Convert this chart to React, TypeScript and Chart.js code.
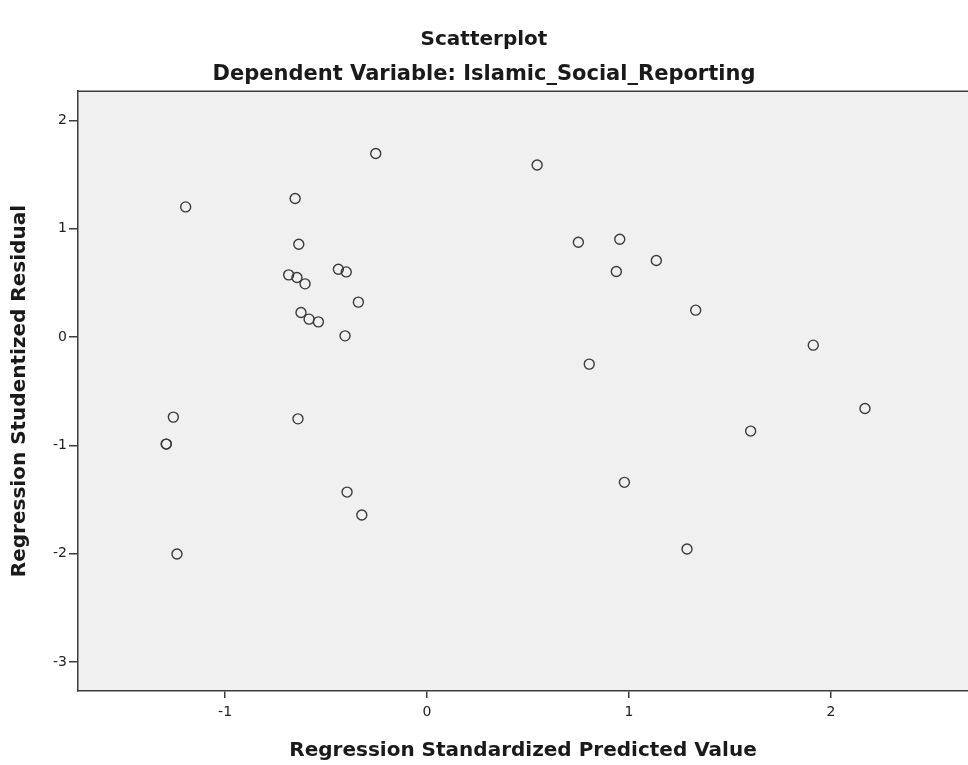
import React, { useEffect, useRef } from "react";
import { Chart, registerables } from "chart.js";

Chart.register(...registerables);

const titleText = "Scatterplot";
const subtitleText = "Dependent Variable: Islamic_Social_Reporting";
const xAxisTitle = "Regression Standardized Predicted Value";
const yAxisTitle = "Regression Studentized Residual";

// Regression Standardized Predicted Value
const predicted = [
  -0.254, -0.653, -1.195, -0.635, -0.685, -0.644, -0.604, -0.439, -0.4, -0.34,
  -0.624, -0.584, -0.538, -0.406, -1.256, -1.291, -1.291, -0.639, -0.396, -0.323,
  -1.238, 0.545, 0.749, 0.954, 1.135, 0.937, 1.33, 1.912, 0.803, 2.168,
  1.602, 0.977, 1.287,
];
// Regression Studentized Residual
const residual = [
  1.695, 1.28, 1.202, 0.858, 0.575, 0.551, 0.492, 0.627, 0.602, 0.323,
  0.228, 0.166, 0.141, 0.012, -0.738, -0.987, -0.987, -0.754, -1.43, -1.642,
  -2.002, 1.589, 0.876, 0.904, 0.708, 0.606, 0.249, -0.074, -0.249, -0.658,
  -0.867, -1.34, -1.956,
];

const xMin = -1.728;
const xMax = 2.678;
const yMin = -3.266;
const yMax = 2.27;

const plotBg = {
  id: "plotBg",
  beforeDraw(chart: any) {
    const { ctx, chartArea } = chart;
    ctx.save();
    ctx.fillStyle = "#f0f0f0";
    ctx.fillRect(chartArea.left, chartArea.top, chartArea.right - chartArea.left, chartArea.bottom - chartArea.top);
    ctx.restore();
  },
  afterDraw(chart: any) {
    const { ctx, chartArea } = chart;
    ctx.save();
    ctx.strokeStyle = "#3c3c3c";
    ctx.lineWidth = 1.5;
    ctx.beginPath();
    ctx.moveTo(chartArea.left, chartArea.top);
    ctx.lineTo(chartArea.right, chartArea.top);
    ctx.stroke();
    ctx.restore();
  },
};

export default function App() {
  const ref = useRef<HTMLCanvasElement | null>(null);

  useEffect(() => {
    document.body.style.margin = "0";
    document.body.style.background = "#ffffff";
    const canvas = ref.current;
    if (!canvas) return;
    const points = predicted.map((x, i) => ({ x, y: residual[i] }));
    const chart = new Chart(canvas, {
      type: "scatter",
      data: {
        datasets: [
          {
            data: points,
            pointRadius: 5,
            pointHoverRadius: 5,
            pointBorderWidth: 1.4,
            pointBorderColor: "#3a3a3a",
            pointBackgroundColor: "rgba(0,0,0,0)",
          },
        ],
      },
      plugins: [plotBg],
      options: {
        animation: false,
        responsive: false,
        maintainAspectRatio: false,
        layout: { autoPadding: false, padding: { left: 0, right: 0, top: 0, bottom: 0 } },
        plugins: {
          legend: { display: false },
          tooltip: { enabled: false },
          title: {
            display: true,
            text: titleText,
            color: "#1a1a1a",
            font: { family: "DejaVu Sans", size: 20, weight: "bold" },
            padding: { top: 28, bottom: 5 },
          },
          subtitle: {
            display: true,
            text: subtitleText,
            color: "#1a1a1a",
            font: { family: "DejaVu Sans", size: 21, weight: "bold" },
            padding: { top: 5, bottom: 4 },
          },
        },
        scales: {
          x: {
            type: "linear",
            min: xMin,
            max: xMax,
            afterFit(scale: any) {
              scale.height = 74;
              scale.paddingLeft = 0;
              scale.paddingRight = 0;
            },
            ticks: {
              stepSize: 1,
              includeBounds: false,
              color: "#222",
              font: { family: "DejaVu Sans", size: 14 },
              padding: 6,
              maxRotation: 0,
            },
            grid: {
              drawOnChartArea: false,
              drawTicks: true,
              tickLength: 7,
              color: "#3c3c3c",
              lineWidth: 1.5,
            },
            border: { display: true, color: "#3c3c3c", width: 1.5 },
            title: {
              display: true,
              text: xAxisTitle,
              color: "#1a1a1a",
              font: { family: "DejaVu Sans", size: 20, weight: "bold" },
              padding: { top: 0, bottom: 2 },
            },
          },
          y: {
            type: "linear",
            min: yMin,
            max: yMax,
            afterFit(scale: any) {
              scale.width = 78;
              scale.paddingTop = 0;
              scale.paddingBottom = 0;
            },
            ticks: {
              stepSize: 1,
              includeBounds: false,
              color: "#222",
              font: { family: "DejaVu Sans", size: 14 },
              padding: 2,
            },
            grid: {
              drawOnChartArea: false,
              drawTicks: true,
              tickLength: 9,
              color: "#3c3c3c",
              lineWidth: 1.5,
            },
            border: { display: true, color: "#3c3c3c", width: 1.5 },
            title: {
              display: true,
              text: yAxisTitle,
              color: "#1a1a1a",
              font: { family: "DejaVu Sans", size: 20, weight: "bold" },
              padding: { top: 8, bottom: 0 },
            },
          },
        },
      },
    });
    return () => chart.destroy();
  }, []);

  return (
    <div style={{ width: 968, height: 765 }}>
      <canvas ref={ref} width={968} height={765} style={{ display: "block" }} />
    </div>
  );
}
